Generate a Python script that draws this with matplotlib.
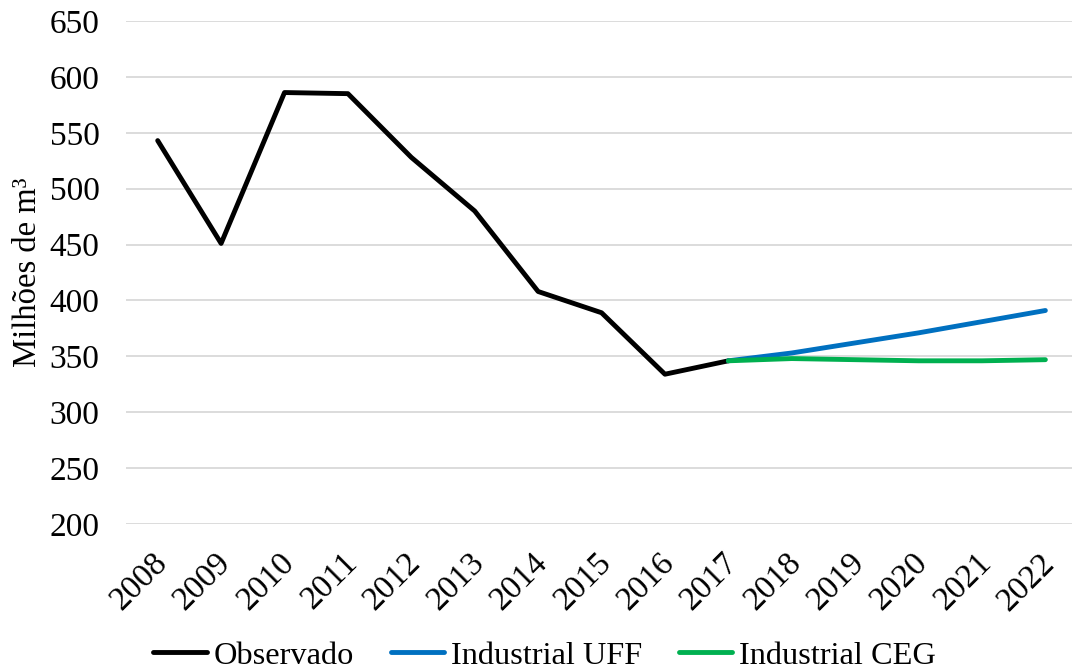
import matplotlib
matplotlib.use("Agg")
import matplotlib.pyplot as plt
import matplotlib.transforms as mtransforms

# === DATA ===
years = [2008, 2009, 2010, 2011, 2012, 2013, 2014, 2015, 2016, 2017,
         2018, 2019, 2020, 2021, 2022]
observado = [543, 451, 586, 585, 528, 480, 408, 389, 334, 346]
uff_years = [2017, 2018, 2019, 2020, 2021, 2022]
industrial_uff = [346, 353, 362, 371, 381, 391]
industrial_ceg = [346, 348, 347, 346, 346, 347]

plt.rcParams['font.family'] = ['Liberation Serif', 'DejaVu Serif']
fs = 24

fig = plt.figure(figsize=(10.72, 6.72), dpi=100)
ax = fig.add_axes([126 / 1072, 1 - 524 / 672, 1 - 126 / 1072, (524 - 21) / 672])

pos = {y: i for i, y in enumerate(years)}
ax.plot([pos[y] for y in years[:len(observado)]], observado, color='black',
        lw=3.5, solid_capstyle='round', solid_joinstyle='round', label='Observado')
ax.plot([pos[y] for y in uff_years], industrial_uff, color='#0070C0',
        lw=3.5, solid_capstyle='round', label='Industrial UFF')
ax.plot([pos[y] for y in uff_years], industrial_ceg, color='#00B050',
        lw=3.5, solid_capstyle='round', label='Industrial CEG')

ax.set_ylim(200, 650)
ax.set_yticks(range(200, 651, 50))
ax.set_xlim(-0.5, 14.42)
ax.set_xticks(range(len(years)))
ax.set_xticklabels([str(y) for y in years], rotation=45, ha='right',
                   rotation_mode='anchor')
ax.tick_params(axis='both', length=0, labelsize=fs)
ax.tick_params(axis='x', pad=17)
ax.tick_params(axis='y', pad=19)
shift = mtransforms.ScaledTranslation(-6 / 100, 0, fig.dpi_scale_trans)
for lbl in ax.get_xticklabels():
    lbl.set_transform(lbl.get_transform() + shift)
ax.grid(axis='y', color='#d9d9d9', lw=1.3)
ax.set_axisbelow(True)
for s in ax.spines.values():
    s.set_visible(False)

ax.set_ylabel('Milhões de m³', fontsize=23.5, labelpad=4.5)

fig.legend(loc='center', bbox_to_anchor=(0.508, 0.024), ncol=3, frameon=False,
           fontsize=23.3, handlelength=1.65, handletextpad=0.2, columnspacing=1.15)

fig.savefig('out.png', dpi=100)
